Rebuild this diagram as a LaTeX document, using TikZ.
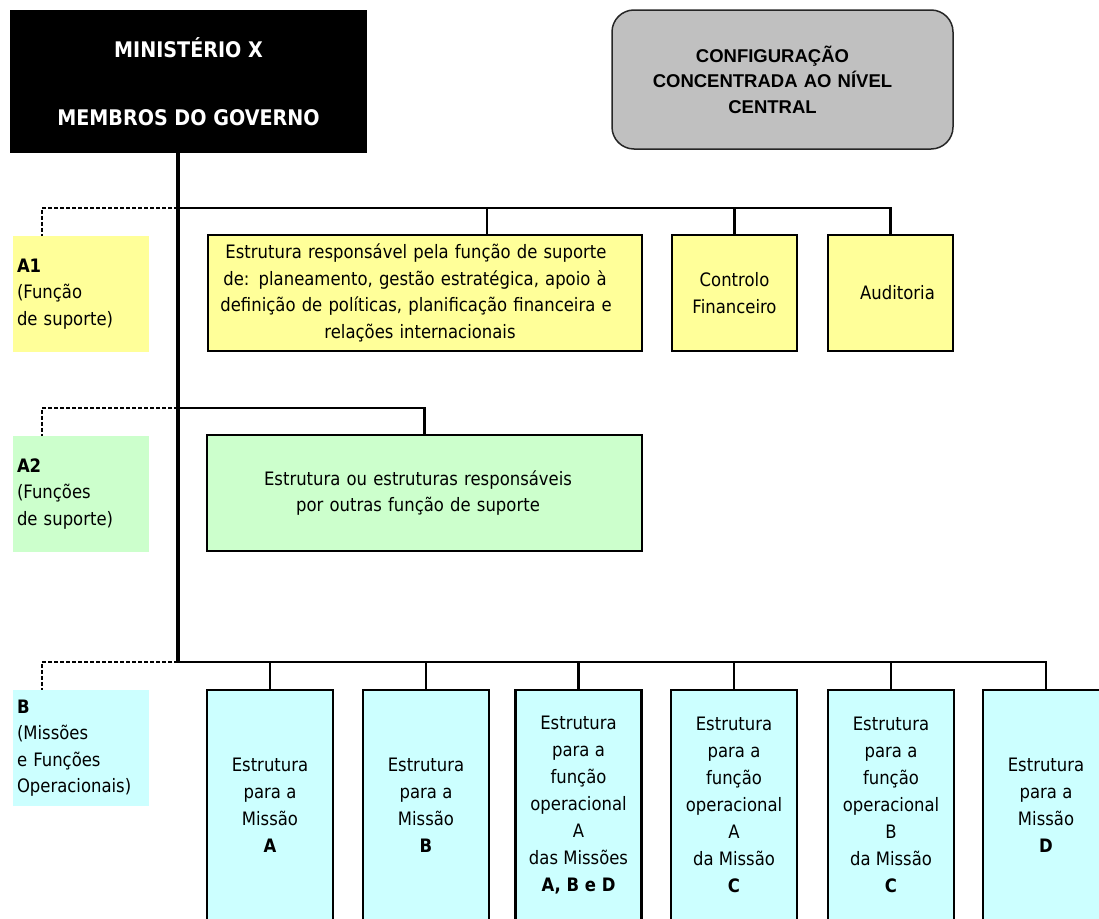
\documentclass[tikz,border=0pt]{standalone}
\usepackage{fontspec}
\setmainfont{DejaVu Sans}[FakeStretch=0.89]
\newfontfamily\arialfont{Liberation Sans}
\usetikzlibrary{calc}
\definecolor{yel}{HTML}{FFFF99}
\definecolor{grn}{HTML}{CCFFCC}
\definecolor{cyn}{HTML}{CCFFFF}
\definecolor{gry}{HTML}{C0C0C0}
\newcommand{\gap}[1]{\rule{#1}{0pt}}
\begin{document}
\begin{tikzpicture}[x=1pt,y=-1pt,
  box/.style={draw=black,line width=2.5pt,inner sep=0pt,align=center,
    font=\fontsize{18.5}{26.7}\selectfont},
  opbox/.style={box,fill=cyn,minimum width=126pt,minimum height=230pt,
    font=\fontsize{18.5}{27}\selectfont},
  lab/.style={inner xsep=4pt,inner ysep=0pt,text width=128pt,align=left,
    minimum height=116pt,font=\fontsize{18.5}{26.5}\selectfont},
  conn/.style={line width=2.5pt},
  trunk/.style={line width=4pt},
  dashconn/.style={line width=2pt,dash pattern=on 4pt off 2pt}
]
\useasboundingbox (0,0) rectangle (1099,918);
\fill[white] (0,0) rectangle (1099,918);
\clip (0,0) rectangle (1099,918);

% top boxes
\node[fill=black,text=white,minimum width=357pt,minimum height=143pt,inner sep=0pt,
  align=center,font=\bfseries\fontsize{21.5}{26}\selectfont] (min) at (188.5,81.5)
  {MINISTÉRIO X\\[42pt]MEMBROS DO GOVERNO};
\node[draw=black!85,line width=1.5pt,fill=gry,rounded corners=22pt,minimum width=341pt,
  minimum height=139pt,inner sep=0pt,align=center,text width=330pt,
  font=\arialfont\bfseries\fontsize{18.5}{25.5}\selectfont] (cfg) at (782.5,79.5)
  {CONFIGURAÇÃO\gap{20pt}\\CONCENTRADA AO NÍVEL\gap{20pt}\\CENTRAL\gap{20pt}};

% A1 row
\node[lab,fill=yel] (la1) at (81,294) {\textbf{A1}\\(Função\\de suporte)};
\node[box,fill=yel,minimum width=434pt,minimum height=116pt,text width=430pt] (sup) at (425,293)
  {Estrutura responsável pela função de suporte\gap{18pt}\\de: planeamento, gestão estratégica, apoio à\gap{20pt}\\definição de políticas, planificação financeira e\gap{18pt}\\relações internacionais\gap{10pt}};
\node[box,fill=yel,minimum width=125pt,minimum height=116pt] (ctl) at (734.5,293)
  {Controlo\\Financeiro};
\node[box,fill=yel,minimum width=125pt,minimum height=116pt,text width=120pt] (aud) at (890.5,293)
  {\gap{14pt}Auditoria};

% A2 row
\node[lab,fill=grn] (la2) at (81,494) {\textbf{A2}\\(Funções\\de suporte)};
\node[box,fill=grn,minimum width=435pt,minimum height=116pt,text width=430pt] (ost) at (424.5,493)
  {Estrutura ou estruturas responsáveis\gap{13pt}\\por outras função de suporte\gap{13pt}};

% B row
\node[lab,fill=cyn] (lb) at (81,748) {\textbf{B}\\(Missões\\e Funções\\Operacionais)};
\node[opbox] (bA) at (270,805) {Estrutura\\para a\\Missão\\\textbf{A}};
\node[opbox] (bB) at (426,805) {Estrutura\\para a\\Missão\\\textbf{B}};
\node[opbox] (bC) at (578.5,805) {Estrutura\\para a\\função\\operacional\\A\\das Missões\\\textbf{A, B e D}};
\node[opbox] (bE) at (734,805) {Estrutura\\para a\\função\\operacional\\A\\da Missão\\\textbf{C}};
\node[opbox] (bF) at (891,805) {Estrutura\\para a\\função\\operacional\\B\\da Missão\\\textbf{C}};
\node[opbox] (bD) at (1046,805) {Estrutura\\para a\\Missão\\\textbf{D}};

% junctions
\coordinate (j1) at (178,208);
\coordinate (j2) at (178,408);
\coordinate (j3) at (178,662);
\coordinate (supin) at ($(sup.north west)+(280,0)$);
\coordinate (a1in) at ($(la1.north west)+(29,0)$);
\coordinate (a2in) at ($(la2.north west)+(29,0)$);
\coordinate (bin) at ($(lb.north west)+(29,0)$);

% connectors
\draw[conn] (j1) -| (aud.north);
\draw[conn] (j1 -| supin) -- (supin);
\draw[conn] (j1 -| ctl.north) -- (ctl.north);
\draw[conn] (j2) -| (ost.north);
\draw[conn] (j3) -| (bD.north);
\foreach \n in {bA,bB,bC,bE,bF}{\draw[conn] (j3 -| \n.north) -- (\n.north);}
\draw[trunk] (min.south -| j1) -- (j3);
\draw[dashconn] (j1) -| (a1in);
\draw[dashconn] (j2) -| (a2in);
\draw[dashconn] (j3) -| (bin);
\end{tikzpicture}
\end{document}
